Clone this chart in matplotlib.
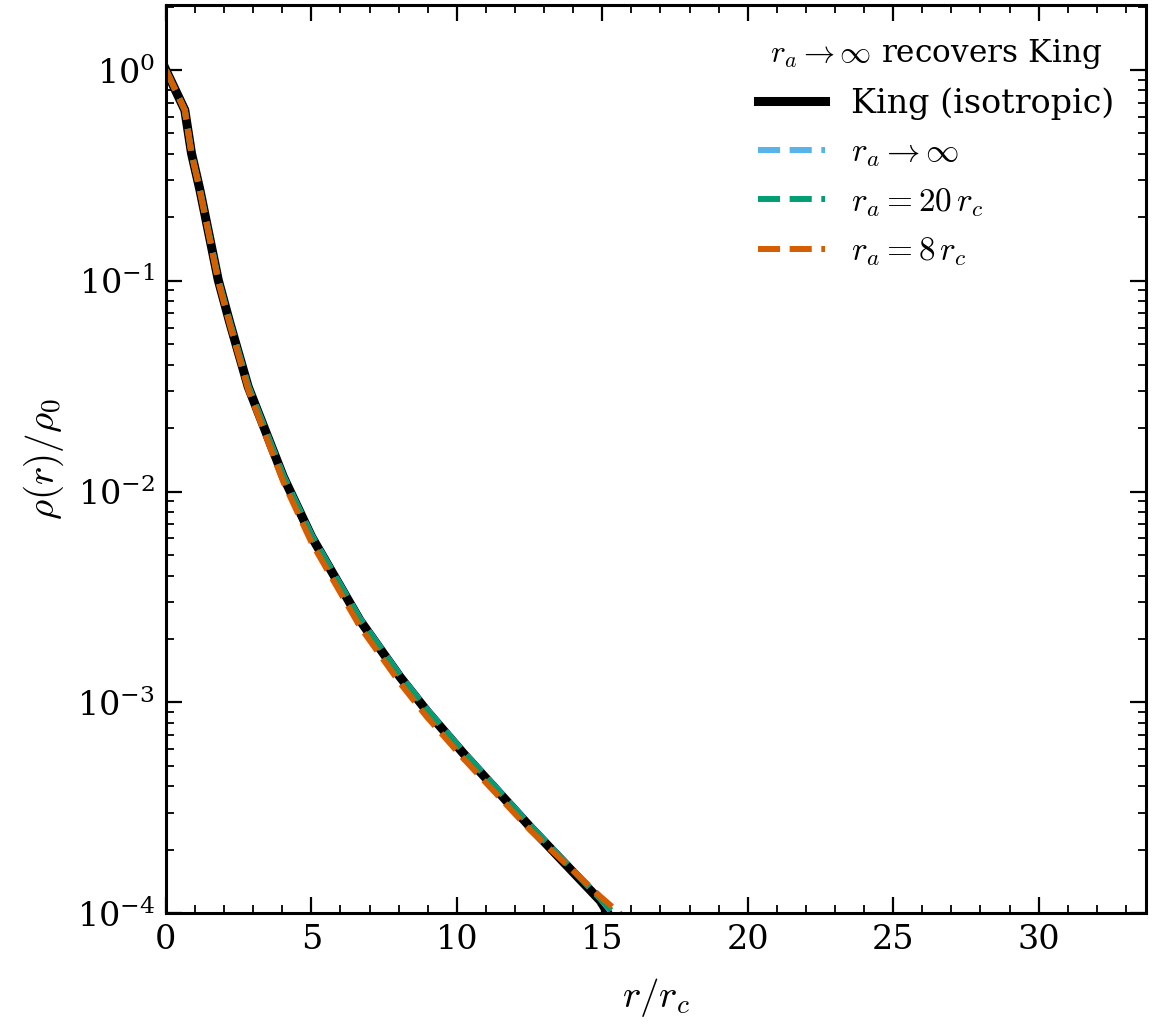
import numpy as np
from matplotlib import pyplot as plt
from matplotlib.ticker import MultipleLocator

plt.rcParams['font.family'] = 'serif'
plt.rcParams['font.serif'] = ['DejaVu Serif']
plt.rcParams['mathtext.fontset'] = 'cm'

# radius in units of r_c, log10 of rho/rho0
r_king = [0.0, 0.65, 0.88, 1.17, 1.8, 2.2, 2.83, 4.04, 5.01, 6.67, 8.05, 8.97,
          10.23, 12.52, 14.93, 15.2, 15.35]
lg_king = [0.0, -0.19, -0.395, -0.569, -0.996, -1.2, -1.503, -1.93, -2.214, -2.61,
           -2.879, -3.04, -3.242, -3.59, -3.94, -4.0, -4.4]

r_inf = [0.0, 0.65, 0.88, 1.17, 1.8, 2.2, 2.83, 4.04, 5.01, 6.67, 8.05, 8.97,
         10.23, 12.52, 14.93, 15.35, 15.5]
lg_inf = [0.0, -0.19, -0.394, -0.567, -0.993, -1.196, -1.498, -1.924, -2.207, -2.602,
          -2.871, -3.032, -3.234, -3.582, -3.93, -4.0, -4.4]

r_20 = [0.0, 0.65, 0.88, 1.17, 1.8, 2.2, 2.83, 4.04, 5.01, 6.67, 8.05, 8.97,
        10.23, 12.52, 14.93, 15.4, 15.55]
lg_20 = [0.0, -0.19, -0.394, -0.568, -0.994, -1.197, -1.5, -1.926, -2.209, -2.604,
         -2.873, -3.034, -3.236, -3.584, -3.93, -4.0, -4.4]

r_8 = [0.0, 0.65, 0.88, 1.17, 1.8, 2.2, 2.83, 4.04, 5.01, 6.67, 8.05, 8.97,
       10.23, 12.52, 14.93, 15.6, 15.75]
lg_8 = [0.0, -0.19, -0.397, -0.573, -1.003, -1.21, -1.517, -1.955, -2.242, -2.64,
        -2.908, -3.068, -3.266, -3.605, -3.92, -4.0, -4.4]


def main():
    fig = plt.figure(figsize=(11.52, 10.32), dpi=100)
    ax = fig.add_axes([0.144, 0.115, 0.851, 0.880])

    ax.plot(r_king, 10 ** np.array(lg_king), color='black', lw=6.5, label='King (isotropic)')
    ax.plot(r_inf, 10 ** np.array(lg_inf), color='#56B4E9', lw=4.3, ls='--', label=r'$r_a \to \infty$')
    ax.plot(r_20, 10 ** np.array(lg_20), color='#009E73', lw=4.3, ls='--', label=r'$r_a = 20\,r_c$')
    ax.plot(r_8, 10 ** np.array(lg_8), color='#D55E00', lw=4.3, ls='--', label=r'$r_a = 8\,r_c$')

    ax.set_yscale('log')
    ax.set_xlim(0, 33.7)
    ax.set_ylim(1e-4, 2.03)
    ax.xaxis.set_major_locator(MultipleLocator(5))
    ax.xaxis.set_minor_locator(MultipleLocator(1))

    ax.tick_params(which='both', direction='in', top=True, right=True, labelsize=24, pad=8)
    ax.tick_params(which='major', length=11.5, width=1.6)
    ax.tick_params(which='minor', length=6, width=1.3)
    for s in ax.spines.values():
        s.set_linewidth(2.2)

    ax.set_xlabel(r'$r/r_c$', fontsize=28, labelpad=14)
    ax.set_ylabel(r'$\rho(r)/\rho_0$', fontsize=28, labelpad=8)

    ax.legend(loc='upper right', frameon=False, fontsize=24,
              title=r'$r_a \to \infty$ recovers King', title_fontsize=22.5,
              borderaxespad=0.55)

    plt.savefig('out.png', dpi=100)


if __name__ == '__main__':
    main()
